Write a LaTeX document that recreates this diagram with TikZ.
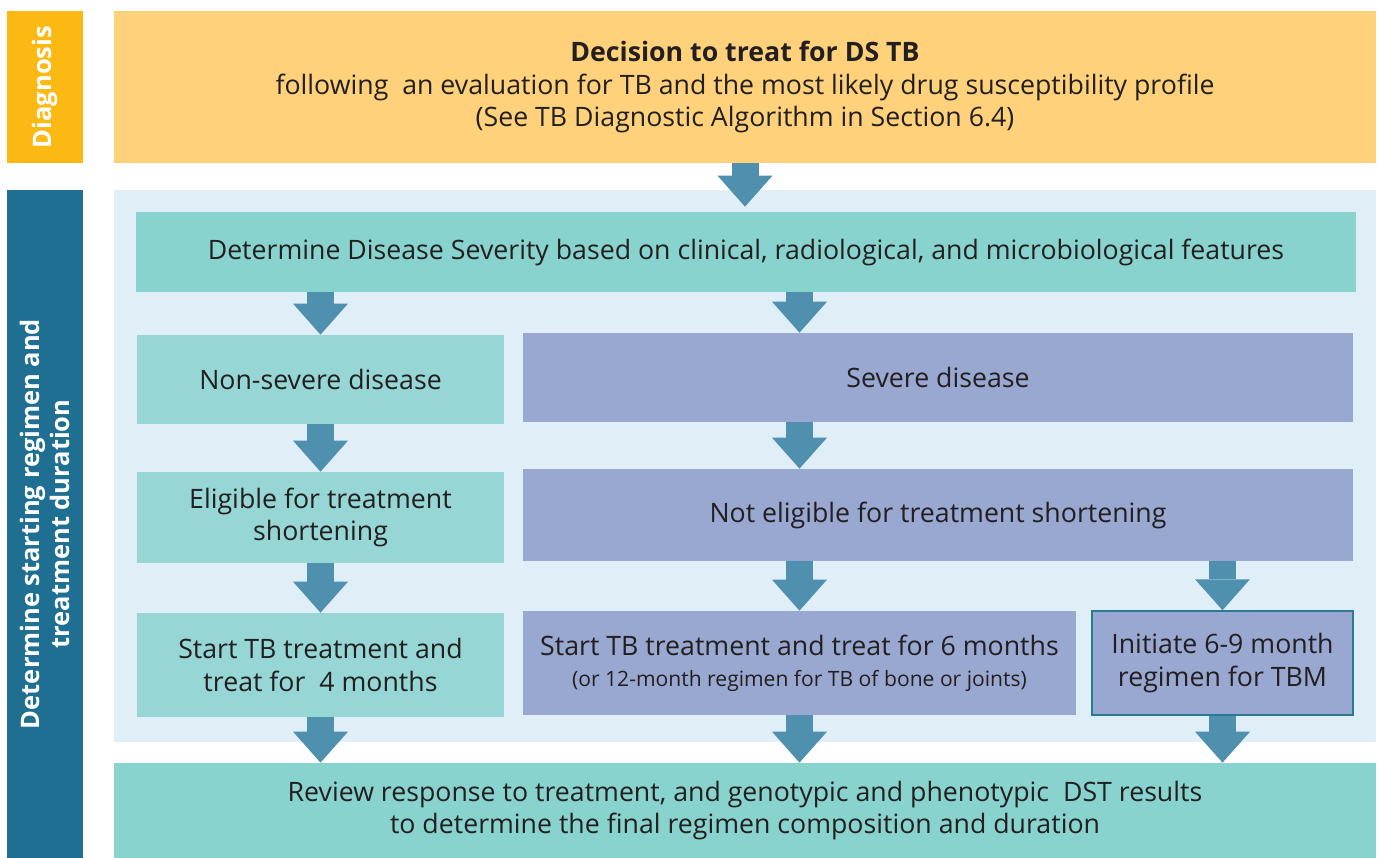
\documentclass[tikz,border=0pt]{standalone}
\usepackage{fontspec}
\setmainfont{Open Sans}
\usetikzlibrary{arrows.meta}

\definecolor{diagyellow}{HTML}{FDB913}
\definecolor{decidefill}{HTML}{FED17A}
\definecolor{sidedark}{HTML}{1F6F93}
\definecolor{panelblue}{HTML}{E0EEF7}
\definecolor{tealfill}{HTML}{88D3CE}
\definecolor{lightteal}{HTML}{96D6D5}
\definecolor{lilac}{HTML}{98A8D0}
\definecolor{flowblue}{HTML}{4E90AE}
\definecolor{tbmedge}{HTML}{2A7A96}
\definecolor{ink}{HTML}{231F20}

\begin{document}
\begin{tikzpicture}[x=0.02cm,y=-0.02cm,
    sz/.style 2 args={minimum width=#1*0.02cm,minimum height=#2*0.02cm},
    box/.style={rectangle,inner sep=0pt,align=center,text=ink,
                font=\fontsize{15.2}{18.6}\selectfont},
    sidebar/.style={rectangle,inner sep=0pt,align=center,text=white,rotate=90,
                font=\fontsize{14.5}{17}\selectfont\bfseries},
    flow/.style={flowblue,line width=0.54cm,
                -{Triangle[width=1.1cm,length=0.62cm,line width=0pt]}}]
                  \useasboundingbox (0,0) rectangle (1380,858);

                  % side labels
                  \node[sidebar,fill=diagyellow,sz={152}{76}] (diag) at (45,87) {Diagnosis};
                  \node[sidebar,fill=sidedark,sz={668}{76}] (regimen) at (45,524)
                  {Determine starting regimen and\\treatment duration};

                  % diagnosis
                  \node[box,fill=decidefill,sz={1262}{152}] (decide) at (745,87)
                  {\textbf{Decision to treat for DS TB}\\
                   following\ \ an evaluation for TB and the most likely drug susceptibility profile\\
                   (See TB Diagnostic Algorithm in Section 6.4)};

                  % regimen panel
                  \node[fill=panelblue,inner sep=0pt,sz={1262}{552}] (panel) at (745,466) {};
                  \node[box,fill=tealfill,sz={1220}{80}] (severity) at (746,252)
                  {Determine Disease Severity based on clinical, radiological, and microbiological features};

                  \node[box,fill=lightteal,sz={367}{89}] (nonsevere) at (320.5,379.5) {Non-severe disease};
                  \node[box,fill=lightteal,sz={367}{91}] (eligible) at (320.5,517.5)
                  {Eligible for treatment\\shortening};
                  \node[box,fill=lightteal,sz={367}{104}] (four) at (320.5,665)
                  {Start TB treatment and\\treat for\ \ 4 months};

                  \node[box,fill=lilac,sz={830}{89}] (severe) at (938,377.5) {Severe disease};
                  \node[box,fill=lilac,sz={830}{92}] (noteligible) at (938,515)
                  {Not eligible for treatment shortening};
                  \node[box,fill=lilac,sz={553}{104}] (six) at (799.5,663)
                  {Start TB treatment and treat for 6 months\\[-1pt]
                   {\fontsize{12}{14}\selectfont (or 12-month regimen for TB of bone or joints)}};
                  \node[box,fill=lilac,draw=tbmedge,line width=0.03cm,sz={261}{104}] (tbm) at (1222.5,663)
                  {Initiate 6-9 month\\regimen for TBM};

                  % review
                  \node[box,fill=tealfill,sz={1262}{95}] (review) at (745,810.5)
                  {Review response to treatment, and genotypic and phenotypic\ \ DST results\\
                   to determine the final regimen composition and duration};

                  % block arrows
                  \draw[flow,shorten >=0.1cm] (decide.south) -- (decide.south |- severity.north);
                  \draw[flow] (nonsevere.north |- severity.south) -- (nonsevere.north);
                  \draw[flow] (six.north |- severity.south) -- (six.north |- severe.north);
                  \draw[flow] (nonsevere) -- (eligible);
                  \draw[flow] (six.north |- severe.south) -- (six.north |- noteligible.north);
                  \draw[flow] (eligible) -- (four);
                  \draw[flow] (six.north |- noteligible.south) -- (six.north);
                  \draw[flow] (tbm.north |- noteligible.south) -- (tbm.north);
                  \foreach \n in {four,six,tbm}
                  \draw[flow] (\n.south) -- (\n.south |- review.north);
\end{tikzpicture}
\end{document}
